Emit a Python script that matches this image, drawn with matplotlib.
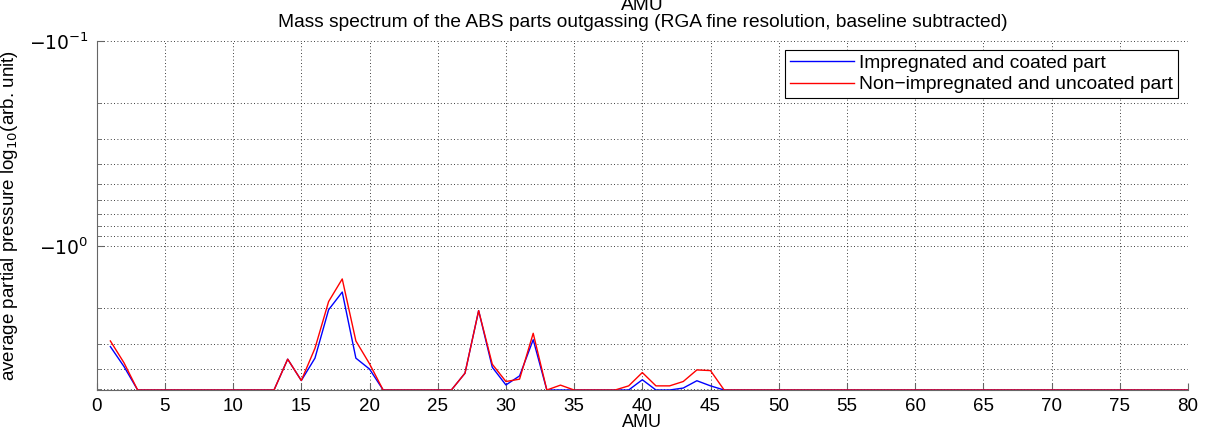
import numpy as np
import matplotlib.pyplot as plt
from matplotlib.ticker import FixedLocator, LogLocator, NullFormatter, FuncFormatter

plt.rcParams["font.family"] = ["Liberation Sans", "DejaVu Sans"]

FLOOR = 5.05  # magnitude at the bottom edge of the axis

amu = np.arange(1, 81)

# magnitudes of the (negative) log partial pressure
coated = [3.10, 3.88, FLOOR, FLOOR, FLOOR, FLOOR, FLOOR, FLOOR, FLOOR, FLOOR,
          FLOOR, FLOOR, FLOOR, 3.57, 4.54, 3.53, 2.05, 1.68, 3.53, 3.99,
          FLOOR, FLOOR, FLOOR, FLOOR, FLOOR, FLOOR, 4.18, 2.07, 3.91, 4.77,
          4.31, 2.87, FLOOR, FLOOR, FLOOR, FLOOR, FLOOR, FLOOR, FLOOR, 4.50,
          FLOOR, FLOOR, 4.94, 4.55, 4.82, FLOOR] + [FLOOR] * 34
uncoated = [2.91, 3.72, FLOOR, FLOOR, FLOOR, FLOOR, FLOOR, FLOOR, FLOOR, FLOOR,
            FLOOR, FLOOR, FLOOR, 3.57, 4.54, 3.16, 1.87, 1.45, 2.91, 3.76,
            FLOOR, FLOOR, FLOOR, FLOOR, FLOOR, FLOOR, 4.18, 2.07, 3.78, 4.59,
            4.47, 2.67, FLOOR, 4.78, FLOOR, FLOOR, FLOOR, FLOOR, 4.82, 4.15,
            4.82, 4.82, 4.59, 4.03, 4.06, FLOOR] + [FLOOR] * 34

fig = plt.figure(figsize=(12.06, 4.4), dpi=100)
ax = fig.add_axes([0.0802, 0.1136, 0.985 - 0.0802, 0.907 - 0.1136])

ax.plot(amu, coated, color="#0000ff", lw=1.0, label="Impregnated and coated part")
ax.plot(amu, uncoated, color="#ff0000", lw=1.0, label="Non\u2212impregnated and uncoated part")

ax.set_yscale("log")
ax.set_ylim(FLOOR, 0.1)
ax.set_xlim(0, 80)
ax.set_xticks(np.arange(0, 81, 5))
ax.yaxis.set_major_locator(FixedLocator([0.1, 1.0]))
ax.yaxis.set_minor_locator(LogLocator(base=10, subs=np.arange(2, 10)))
ax.yaxis.set_minor_formatter(NullFormatter())
ax.yaxis.set_major_formatter(FuncFormatter(
    lambda v, p: r"$-10^{%d}$" % int(round(np.log10(v)))))

ax.grid(True, which="both", axis="y", linestyle=(0, (1, 3)), color="black", lw=0.6)
ax.grid(True, which="major", axis="x", linestyle=(0, (1, 3)), color="black", lw=0.6)

for s in ["top", "right"]:
    ax.spines[s].set_visible(False)
for s in ["left", "bottom"]:
    ax.spines[s].set_color("#666666")
ax.tick_params(direction="in", length=5, color="#666666", labelsize=13.5, pad=6)
ax.tick_params(which="minor", direction="in", length=3, color="#666666")

ax.set_xlabel("AMU", fontsize=13, labelpad=-1)
ax.set_ylabel(r"average partial pressure log$_{10}$(arb. unit)", fontsize=13.5, labelpad=6)
ax.set_title("AMU\nMass spectrum of the ABS parts outgassing (RGA fine resolution, baseline subtracted)",
             fontsize=13.8, pad=10, linespacing=1.0)

leg = ax.legend(loc="upper right", bbox_to_anchor=(0.991, 0.975), fontsize=13.9,
                fancybox=False, framealpha=1, edgecolor="black", handlelength=3.3,
                borderpad=0.25, labelspacing=0.2, handletextpad=0.3, borderaxespad=0)
leg.get_frame().set_linewidth(0.8)

fig.savefig("out.png", dpi=100)
